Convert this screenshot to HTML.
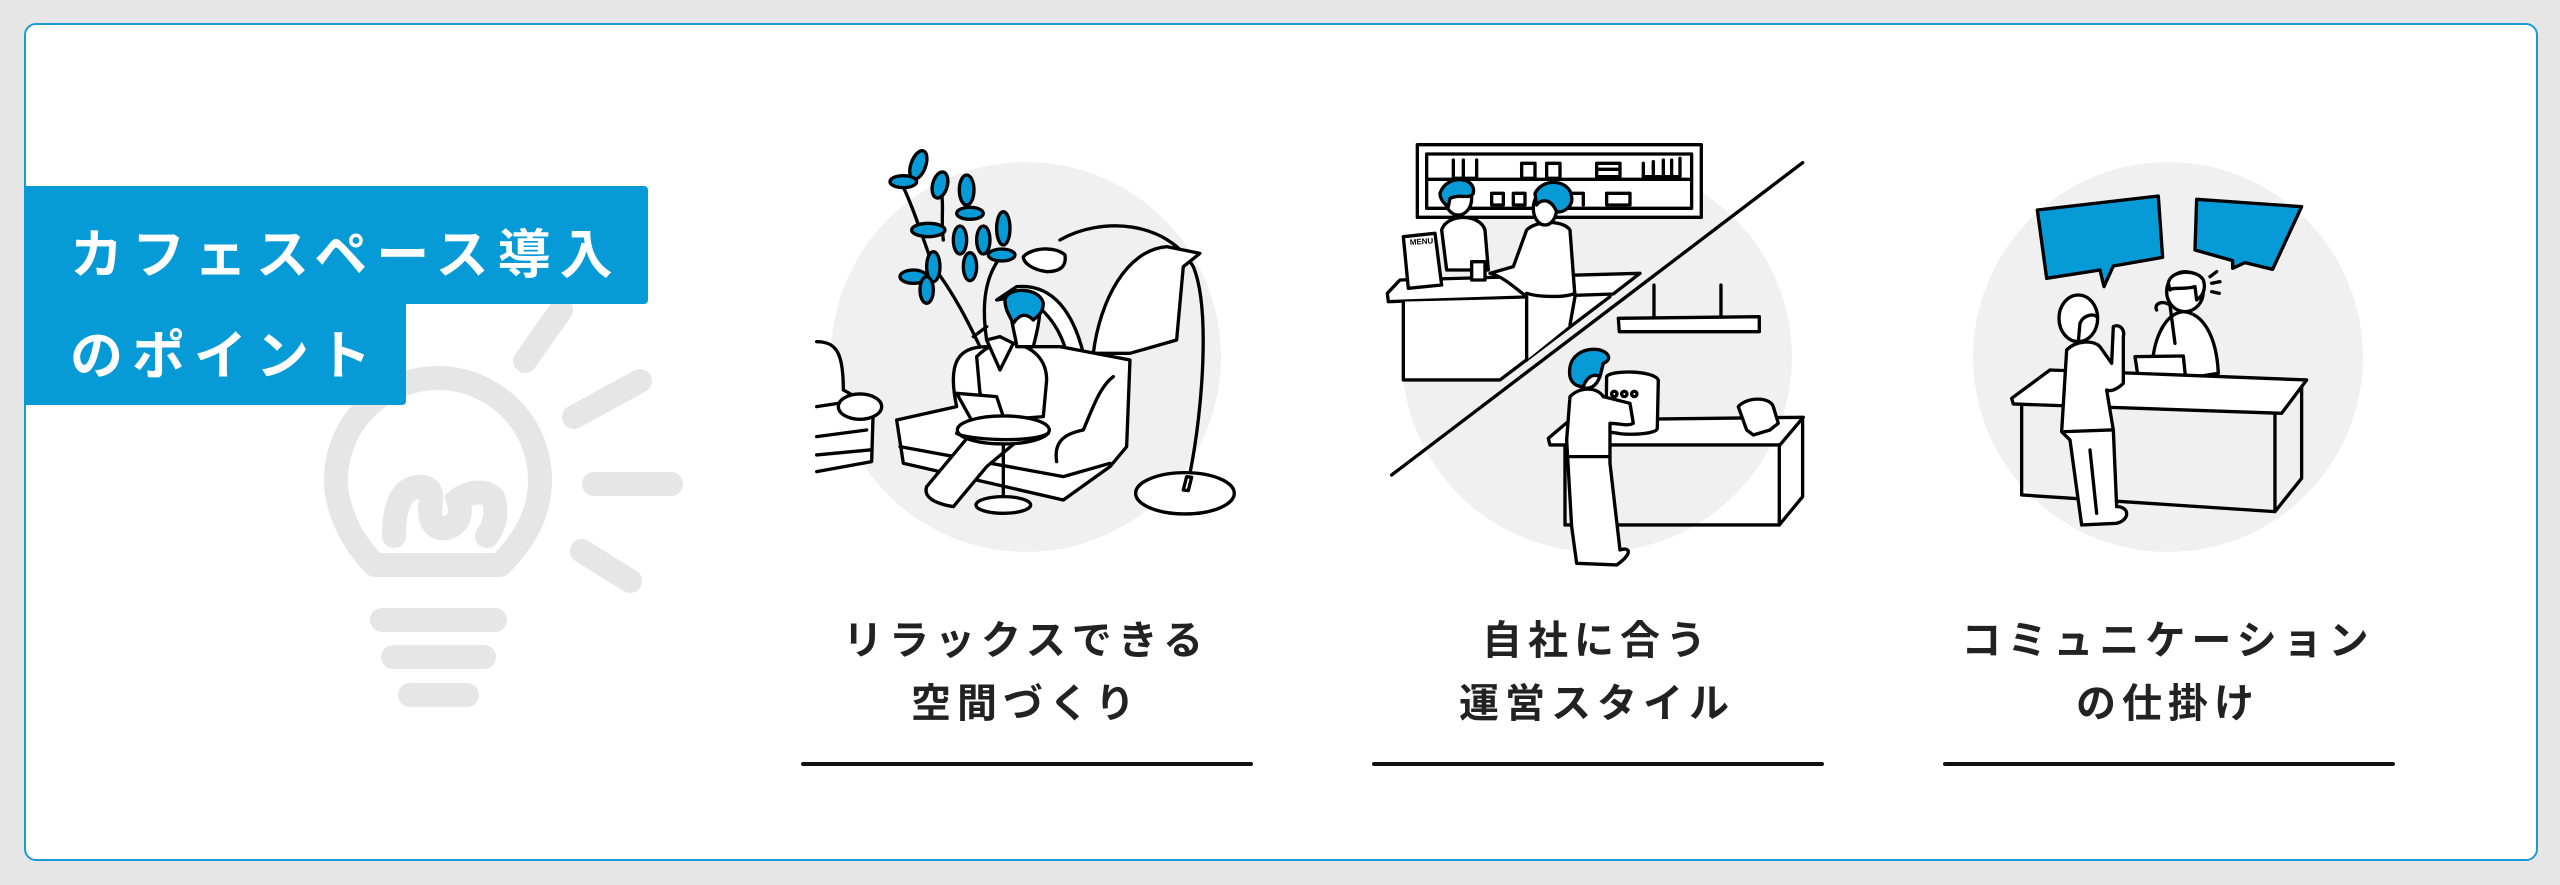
<!DOCTYPE html>
<html><head><meta charset="utf-8"><style>
html,body{margin:0;padding:0;background:#e6e6e6;}
body{width:2560px;height:885px;position:relative;overflow:hidden;font-family:"Liberation Sans","Noto Sans CJK JP",sans-serif;}
.card{position:absolute;left:24px;top:23px;width:2510px;height:834px;background:#fff;border:2px solid #1a9ad6;border-radius:12px;}
.lab{position:absolute;background:#069ad7;color:#fff;font-weight:bold;font-size:53px;letter-spacing:9px;white-space:nowrap;}
.t{position:absolute;width:500px;text-align:center;font-weight:bold;font-size:40px;letter-spacing:6px;color:#222;line-height:63px;}
.u{position:absolute;height:4px;background:#111;width:452px;top:762px;border-radius:2px;}
</style></head><body>
<div class="card"></div>
<svg width="2560" height="885" style="position:absolute;left:0;top:0">
<g stroke="#e6e6e6" stroke-width="24" stroke-linecap="round" fill="none">
<path d="M375,565 C340,530 335,490 336,480 A102,102 0 1 1 540,480 C540,500 535,530 500,565 Z" stroke-linejoin="round"/>
<line x1="382" y1="620" x2="495" y2="620"/><line x1="393" y1="657" x2="484" y2="657"/><line x1="410" y1="695" x2="467" y2="695"/>
<line x1="525" y1="361" x2="561" y2="310"/><line x1="574" y1="417" x2="640" y2="381"/><line x1="594" y1="484" x2="671" y2="484"/><line x1="582" y1="551" x2="630" y2="581"/>
<path d="M394,536 C394,505 402,487 420,487 C436,487 430,500 430,510 C430,525 438,530 446,528 C460,525 462,512 458,500 C470,490 490,490 494,500 C498,515 493,528 487,536"/>
</g>
<circle cx="1026" cy="357" r="195" fill="#f0f0f0"/>
<circle cx="1597" cy="357" r="195" fill="#f0f0f0"/>
<circle cx="2168" cy="357" r="195" fill="#f0f0f0"/>

<!-- col1 -->
<g transform="translate(800,140) scale(0.3333)" stroke="#000" stroke-width="10" stroke-linejoin="round" stroke-linecap="round" fill="#fff">
<path d="M50,605 C110,605 130,640 130,750 L220,800 L215,965 L50,995" fill="#fff"/>
<path d="M50,800 L180,780 M50,890 L200,870 M50,945 L210,930" fill="none"/>
<ellipse cx="180" cy="800" rx="65" ry="38"/>
<path d="M520,590 L560,560 M540,620 C520,580 470,470 400,380 C370,300 340,200 300,120 M560,600 C545,500 550,400 620,330 M430,300 C420,220 440,170 410,130" fill="none"/>
<g fill="#069ad7"><ellipse cx="355" cy="75" rx="22" ry="45" transform="rotate(20 355 75)"/><ellipse cx="420" cy="135" rx="22" ry="40" transform="rotate(15 420 135)"/><ellipse cx="500" cy="150" rx="22" ry="45"/><ellipse cx="385" cy="270" rx="50" ry="20"/><ellipse cx="510" cy="220" rx="40" ry="18"/><ellipse cx="480" cy="300" rx="20" ry="42"/><ellipse cx="400" cy="380" rx="20" ry="45"/><ellipse cx="340" cy="410" rx="40" ry="20"/><ellipse cx="380" cy="450" rx="20" ry="40"/><ellipse cx="510" cy="380" rx="20" ry="42"/><ellipse cx="550" cy="300" rx="20" ry="42"/><ellipse cx="610" cy="265" rx="20" ry="50"/><ellipse cx="605" cy="345" rx="40" ry="18"/><ellipse cx="310" cy="125" rx="40" ry="18"/></g>
<path d="M780,300 C900,230 1100,240 1180,380 C1230,500 1210,800 1170,1000" fill="none"/>
<path d="M670,350 C700,320 770,320 795,345 C800,380 780,395 740,395 C700,390 670,370 670,350 Z"/>
<path d="M850,640 C820,520 760,430 650,440 L590,480 L650,470 C720,480 780,560 800,640 Z"/>
<path d="M880,640 C900,480 980,330 1100,320 L1200,340 L1150,380 L1130,600 L990,640 Z"/>
<path d="M290,840 L470,800 C440,660 480,620 560,620 L780,620 L990,660 L980,920 L930,980 L790,1080 L310,970 Z"/>
<path d="M300,920 L790,1010 L930,970 M770,965 C760,900 800,880 850,870 C880,800 900,740 940,710" fill="none"/>
<path d="M540,760 L530,650 C560,620 600,600 640,610 C700,620 740,660 740,720 L730,830 L600,840 Z"/>
<path d="M630,490 C630,540 650,600 650,620 L700,620 C710,580 720,540 720,500"/>
<path d="M615,480 C620,440 720,440 730,490 C730,520 710,530 700,540 C680,520 660,520 640,550 C630,530 615,510 615,480 Z" fill="#069ad7"/>
<path d="M560,600 L600,590 L640,610 L600,690 Z"/>
<path d="M530,860 L380,1040 C370,1070 400,1090 460,1100 L560,980 L680,880 Z"/>
<path d="M470,760 L590,770 L620,860 L520,850 Z"/>
<ellipse cx="610" cy="870" rx="138" ry="42"/>
<path d="M470,880 C500,900 700,910 745,880" fill="none"/>
<line x1="610" y1="912" x2="610" y2="1090"/>
<ellipse cx="610" cy="1095" rx="82" ry="25"/>
<ellipse cx="1155" cy="1060" rx="148" ry="62"/>
<path d="M1150,1050 L1160,1010 L1175,1012 L1165,1052 Z"/>
</g>

<!-- col2 -->
<g transform="translate(1370,130) scale(0.3333)" stroke="#000" stroke-width="10" stroke-linejoin="round" stroke-linecap="round" fill="#fff">
<rect x="142" y="44" width="852" height="218"/>
<path d="M170,72 L965,72 L965,235 L170,235 Z M170,148 L965,148" fill="none"/>
<path d="M250,90 L250,145 L320,145 L320,90 M280,90 L280,145 M455,100 L495,100 L495,145 L455,145 Z M530,100 L570,100 L570,145 L530,145 Z M680,100 L750,100 L750,140 L680,140 Z M680,118 L750,118 M820,100 L820,140 L930,140 L930,85 M850,95 L850,140 M880,90 L880,140 M905,90 L905,140 M365,190 L400,190 L400,225 L365,225 Z M430,190 L465,190 L465,225 L430,225 Z M710,190 L780,190 L780,225 L710,225 Z M600,190 L640,190 L640,225" fill="none"/>
<path d="M52,490 L90,450 L810,430 L730,492 L55,515 Z"/>
<path d="M100,515 L100,750 L390,750 L720,500"/>
<path d="M100,320 L195,310 L215,465 L115,475 Z"/>
<text x="120" y="345" font-size="24" font-weight="bold" fill="#000" stroke="none" font-family="Liberation Sans,sans-serif" transform="rotate(-4 120 345)">MENU</text>
<path d="M215,300 C230,250 330,250 345,300 L355,420 L230,420 Z"/>
<rect x="305" y="395" width="40" height="55"/>
<path d="M470,690 L470,500 C430,470 400,440 360,430 L430,410 L470,300 C500,270 580,270 600,300 L615,500 L600,585"/>
<path d="M470,490 C500,500 580,505 615,490" fill="none"/>
<ellipse cx="525" cy="235" rx="35" ry="50"/>
<path d="M495,190 C520,140 600,150 605,200 C610,230 580,250 560,245 C540,200 510,210 500,225 Z" fill="#069ad7"/>
<ellipse cx="265" cy="205" rx="40" ry="50"/>
<path d="M210,190 C230,130 320,140 310,190 C300,210 270,190 240,205 L235,230 C220,220 210,205 210,190 Z" fill="#069ad7"/>
<line x1="65" y1="1035" x2="1298" y2="98"/>
<path d="M852,465 L852,565 M1053,465 L1053,565" fill="none"/>
<path d="M745,565 L1168,560 L1168,605 L748,605 Z"/>
<path d="M535,925 L600,870 L1300,862 L1230,945 L540,945 Z"/>
<path d="M585,945 L585,1185 L1228,1185 L1228,945 M1228,1185 L1298,1100 L1298,870" fill="none"/>
<path d="M710,740 C720,720 850,720 865,750 L862,895 C860,915 760,915 745,910 L708,905 Z"/>
<circle cx="733" cy="792" r="8" fill="none"/><circle cx="763" cy="792" r="8" fill="none"/><circle cx="793" cy="792" r="8" fill="none"/>
<path d="M1105,830 C1130,800 1200,800 1210,830 L1225,880 L1200,900 L1150,915 L1130,900 Z"/>
<path d="M605,1190 L590,930 L600,800 C630,770 680,770 700,800 L780,820 L790,880 C770,890 750,880 720,880 L720,1000 L750,1260 C780,1250 790,1270 740,1305 L620,1300 Z"/>
<path d="M600,980 L720,980" fill="none"/>
<ellipse cx="650" cy="720" rx="42" ry="55"/>
<path d="M600,740 C590,680 640,650 690,660 C720,670 725,690 700,700 L690,740 C670,730 650,740 640,770 C620,770 605,760 600,740 Z" fill="#069ad7"/>
</g>

<!-- col3 -->
<g transform="translate(1950,150) scale(0.3333)" stroke="#000" stroke-width="10" stroke-linejoin="round" stroke-linecap="round" fill="#fff">
<path d="M262,180 L625,138 L638,322 L490,348 L462,410 L450,360 L290,385 Z" fill="#069ad7"/>
<path d="M740,148 L1055,170 L968,358 L885,338 L848,355 L848,332 L735,300 Z" fill="#069ad7"/>
<path d="M780,380 L800,365 M785,400 L810,395 M785,425 L808,430" fill="none"/>
<path d="M610,615 C620,550 650,490 700,485 C760,490 800,560 805,670 L680,690 Z"/>
<ellipse cx="705" cy="425" rx="55" ry="60"/>
<path d="M655,400 C660,360 740,355 760,390 C770,420 755,440 740,450 L735,410 C700,420 670,410 660,420 Z" fill="#fff"/>
<path d="M620,480 C610,460 640,450 660,465 L675,580" fill="none"/>
<path d="M555,620 L700,618 L710,715 L570,718 Z"/>
<path d="M185,745 L300,660 L1070,690 L995,790 L190,762 Z"/>
<path d="M215,765 L215,1035 L975,1085 L975,795 M975,1085 L1055,985 L1055,710" fill="none"/>
<path d="M395,1125 L360,870 L335,845 L350,600 C380,570 430,570 450,590 L485,640 L490,530 C510,520 525,540 520,560 L520,700 C500,720 480,725 470,720 L490,840 L500,1070 C540,1070 540,1110 500,1120 Z"/>
<path d="M345,845 L485,840 M420,900 L440,1090" fill="none"/>
<ellipse cx="385" cy="505" rx="58" ry="70"/>
<path d="M385,575 L390,520 C400,495 430,490 440,500" fill="none"/>
</g>
</svg>

<div class="lab" style="left:24px;top:186px;width:624px;height:118px;border-radius:0 4px 4px 0;"><span style="position:absolute;left:46px;top:27px;">カフェスペース導入</span></div>
<div class="lab" style="left:24px;top:300px;width:382px;height:105px;border-radius:0 0 4px 0;"><span style="position:absolute;left:46px;top:14px;">のポイント</span></div>

<div class="t" style="left:776px;top:610px;">リラックスできる<br>空間づくり</div>
<div class="t" style="left:1347px;top:610px;">自社に合う<br>運営スタイル</div>
<div class="t" style="left:1918px;top:610px;">コミュニケーション<br>の仕掛け</div>
<div class="u" style="left:801px;"></div>
<div class="u" style="left:1372px;"></div>
<div class="u" style="left:1943px;"></div>
</body></html>
